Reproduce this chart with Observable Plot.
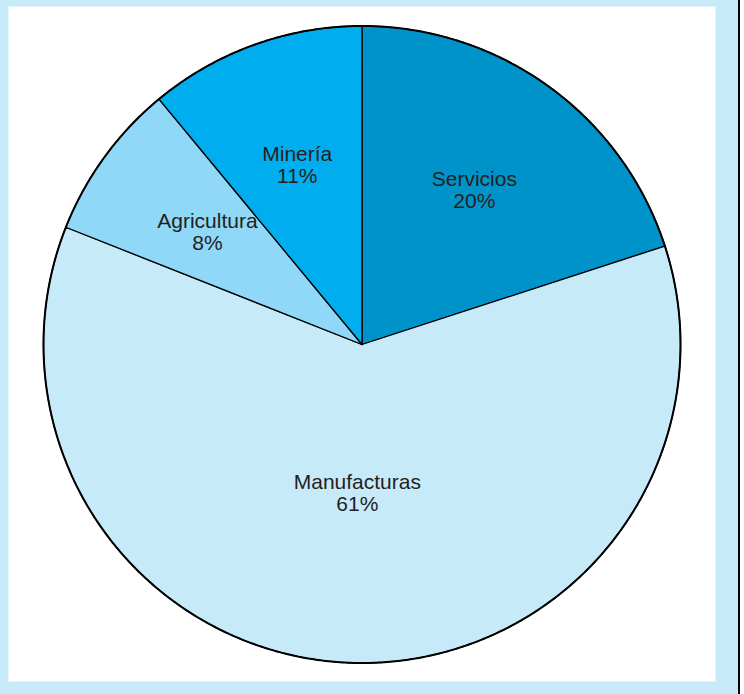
<!DOCTYPE html>
<html>
<head>
<meta charset="utf-8">
<script src="https://cdn.jsdelivr.net/npm/d3@7"></script>
<script src="https://cdn.jsdelivr.net/npm/@observablehq/plot@0.6"></script>
<style>
  html, body { margin: 0; padding: 0; background: #ffffff; }
  #wrap { width: 738px; height: 694px; background: #c7eaf9; border-right: 2px solid #000; overflow: hidden; }
  #wrap svg { display: block; background: transparent; }
</style>
</head>
<body>
<div id="wrap"></div>
<script>
const categories = ["Servicios", "Manufacturas", "Agricultura", "Minería"];
const shares = [20, 61, 8, 11];
const sliceColors = ["#0093c9", "#c7eaf9", "#8fd8f7", "#00aeef"];

const R = 318.5;
const W = 738, H = 694;
const mL = 8, mR = W - 715, mT = 6, mB = H - 681;
const cx = 361.5, cy = 344;

const table = categories.map((c, i) => ({category: c, share: shares[i]}));
const arcs = d3.pie().sort(null).value(d => d.share)(table);

// slice outlines sampled along the arc (unit radius)
const slicePts = [];
for (const a of arcs) {
  const n = Math.max(2, Math.ceil((a.endAngle - a.startAngle) / (Math.PI / 360)));
  slicePts.push({category: a.data.category, x: 0, y: 0});
  for (let k = 0; k <= n; k++) {
    const t = a.startAngle + (a.endAngle - a.startAngle) * k / n;
    slicePts.push({category: a.data.category, x: Math.sin(t), y: Math.cos(t)});
  }
  slicePts.push({category: a.data.category, x: 0, y: 0});
}
const rim = d3.range(0, 721).map(k => {
  const t = k / 720 * 2 * Math.PI;
  return {x: Math.sin(t), y: Math.cos(t)};
});

const labels = arcs.map(a => {
  const mid = (a.startAngle + a.endAngle) / 2;
  const r = a.data.share > 50 ? 0.465 : 0.6;
  return {x: r * Math.sin(mid), y: r * Math.cos(mid), text: a.data.category + "\n" + a.data.share + "%"};
});

const chart = Plot.plot({
  width: W,
  height: H,
  marginLeft: mL, marginRight: mR, marginTop: mT, marginBottom: mB,
  x: {domain: [(mL - cx) / R, (W - mR - cx) / R], axis: null},
  y: {domain: [(cy - (H - mB)) / R, (cy - mT) / R], axis: null},
  color: {domain: categories, range: sliceColors},
  style: {background: "transparent", fontFamily: "'Liberation Sans', Arial, sans-serif"},
  marks: [
    Plot.frame({fill: "#ffffff", stroke: null}),
    Plot.line(slicePts, {x: "x", y: "y", z: "category", fill: "category", stroke: "#000", strokeWidth: 1.3, strokeLinejoin: "miter", curve: "linear"}),
    Plot.line(rim, {x: "x", y: "y", stroke: "#000", strokeWidth: 2, curve: "linear"}),
    Plot.text(labels, {x: "x", y: "y", text: "text", fill: "#231f20", fontSize: 21, lineHeight: 1.05, lineAnchor: "middle", textAnchor: "middle"})
  ]
});
document.getElementById("wrap").appendChild(chart);
</script>
</body>
</html>
